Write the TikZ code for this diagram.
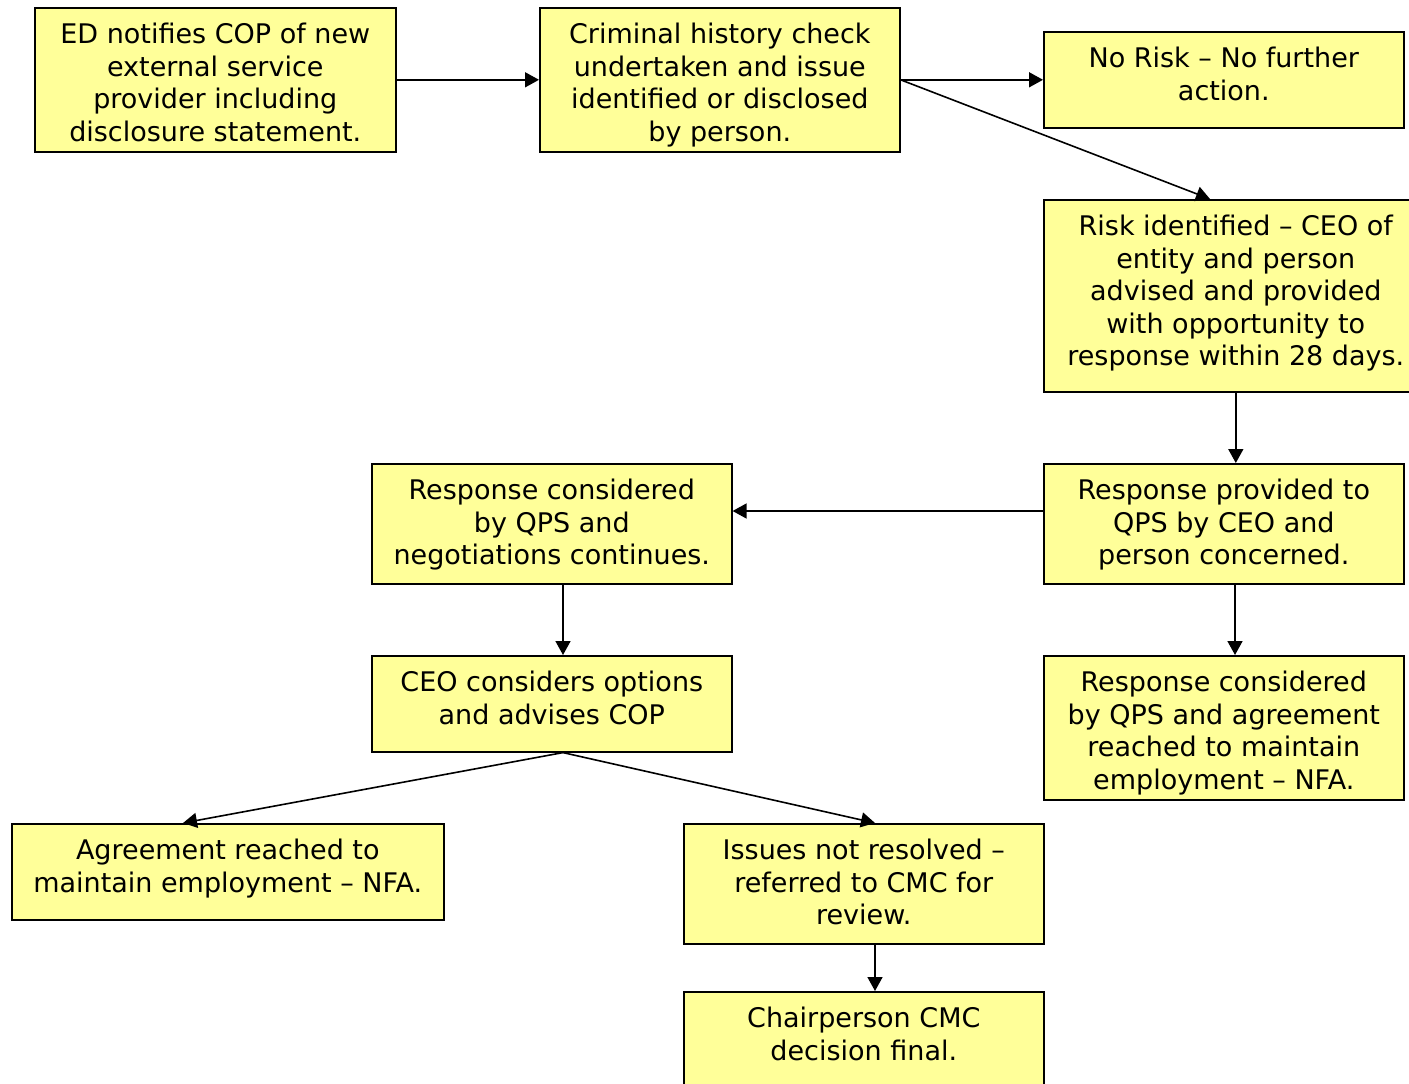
\documentclass[tikz,border=0pt]{standalone}
\usepackage{fontspec}
\setmainfont{DejaVu Sans}
\usetikzlibrary{arrows.meta,calc}
\definecolor{boxfill}{RGB}{255,255,153}
\newcommand\bxt[3]{\parbox[t][#2pt][t]{#1pt}{\centering\rule{0pt}{36pt}#3\par}}
\begin{document}
\begin{tikzpicture}[x=1pt,y=-1pt,
  fbox/.style={draw=black,fill=boxfill,line width=1.6pt,inner sep=0pt,anchor=north west,
    font=\fontsize{27}{32.5}\selectfont},
  arr/.style={line width=1.6pt,-{Triangle[length=14pt,width=15pt]}},
  ln/.style={line width=1.6pt}]
\useasboundingbox (0,0) rectangle (1409,1084);
\fill[white] (0,0) rectangle (1409,1084);
\node[fbox] (ed) at (34,7) {\bxt{361}{144}{ED notifies COP of new\\ external service\\ provider including\\ disclosure statement.}};
\node[fbox] (crim) at (539,7) {\bxt{360}{144}{Criminal history check\\ undertaken and issue\\ identified or disclosed\\ by person.}};
\node[fbox] (norisk) at (1043,31) {\bxt{360}{96}{No Risk -- No further\\ action.}};
\node[fbox] (risk) at (1043,199) {\bxt{384}{192}{Risk identified -- CEO of\\ entity and person\\ advised and provided\\ with opportunity to\\ response within 28 days.}};
\node[fbox] (respprov) at (1043,463) {\bxt{360}{120}{Response provided to\\ QPS by CEO and\\ person concerned.}};
\node[fbox] (respneg) at (371,463) {\bxt{360}{120}{Response considered\\ by QPS and\\ negotiations continues.}};
\node[fbox] (ceo) at (371,655) {\bxt{360}{96}{CEO considers options\\ and advises COP}};
\node[fbox] (respagr) at (1043,655) {\bxt{360}{144}{Response considered\\ by QPS and agreement\\ reached to maintain\\ employment -- NFA.}};
\node[fbox] (agree) at (11,823) {\bxt{432}{96}{Agreement reached to\\ maintain employment -- NFA.}};
\node[fbox] (issues) at (683,823) {\bxt{360}{120}{Issues not resolved --\\ referred to CMC for\\ review.}};
\node[fbox] (chair) at (683,991) {\bxt{360}{110}{Chairperson CMC\\ decision final.}};
\draw[arr] (ed.east) -- (crim.west);
\draw[arr] (crim.east) -- (norisk.west);
\draw[arr] (crim.east) -- ($(risk.north west)+(167,0)$);
\draw[arr] (risk.south) -- (risk.south |- respprov.north);
\draw[arr] ($(respprov.north west)+(0,48)$) coordinate (a) -- (a -| respneg.east);
\draw[arr] ($(respneg.south west)+(192,0)$) coordinate (b) -- (b |- ceo.north);
\draw[arr] ($(respprov.south west)+(192,0)$) coordinate (c) -- (c |- respagr.north);
\draw[arr] (b |- ceo.south) -- ($(agree.north west)+(172,0)$);
\draw[arr] (b |- ceo.south) -- ($(issues.north west)+(192,0)$);
\draw[arr] ($(issues.south west)+(192,0)$) coordinate (d) -- (d |- chair.north);
\end{tikzpicture}
\end{document}
